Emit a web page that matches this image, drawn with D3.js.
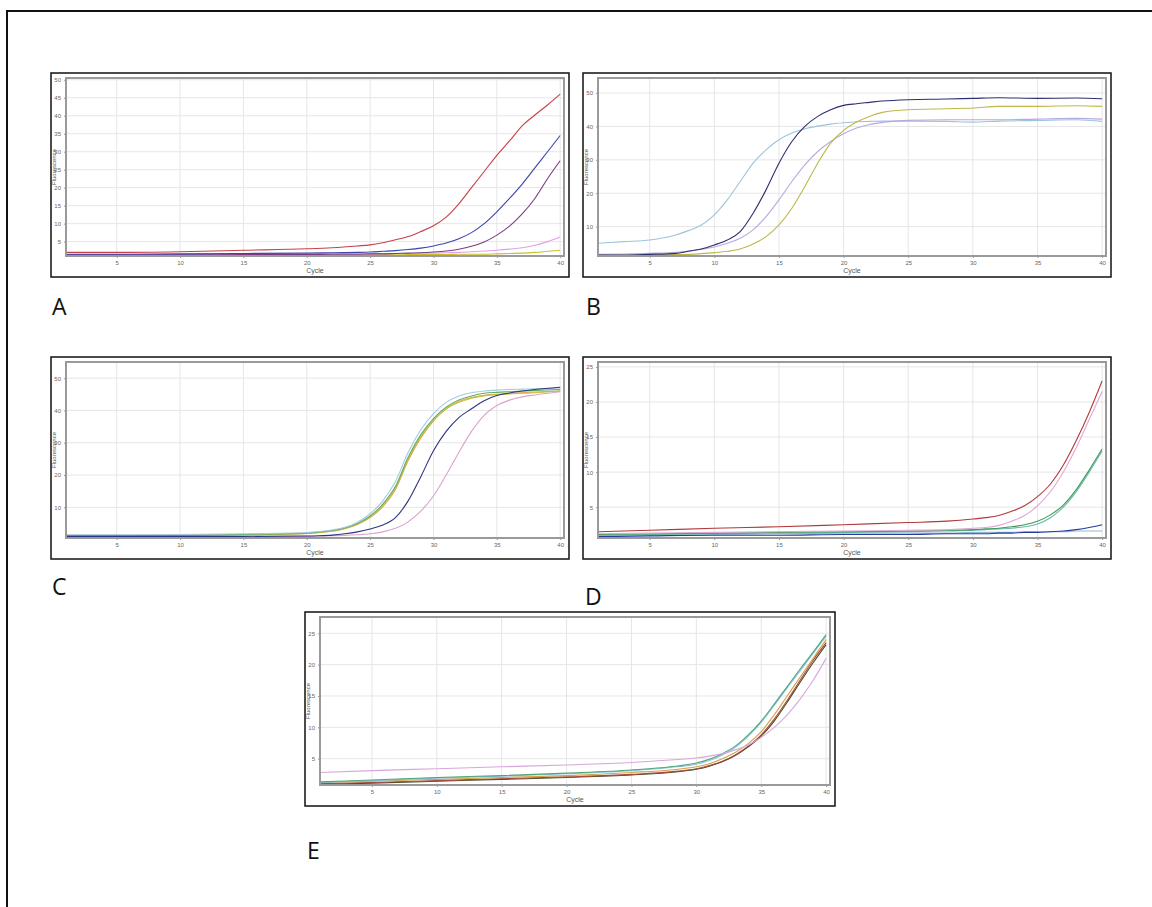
<!DOCTYPE html>
<html><head><meta charset="utf-8">
<script src="https://cdn.jsdelivr.net/npm/d3@7"></script>
<style>html,body{margin:0;padding:0;background:#fff;}svg{display:block;}</style>
</head><body>
<script>
// ---------- DATA ----------
const xTicks = [5,10,15,20,25,30,35,40];

// Panel A
const aCycles = [1,5,10,15,20,22,24,25,26,27,28,29,30,31,32,33,34,35,36,37,38,39,40];
const aRed    = [2.0,2.0,2.2,2.6,3.0,3.3,3.8,4.1,4.7,5.5,6.4,7.8,9.4,11.8,15.5,20,24.5,29,33,37.2,40.2,43,46];
const aBlue   = [1.5,1.5,1.6,1.7,1.8,1.9,2.0,2.1,2.3,2.5,2.8,3.2,3.8,4.6,5.8,7.5,10,13.3,17,21,25.5,30,34.5];
const aPurple = [1.3,1.3,1.3,1.4,1.4,1.5,1.5,1.6,1.6,1.7,1.8,1.9,2.1,2.4,2.9,3.7,4.9,6.8,9.3,12.7,17,22.5,27.5];
const aPink   = [1.4,1.4,1.4,1.5,1.5,1.6,1.6,1.6,1.7,1.7,1.7,1.8,1.8,1.9,2.0,2.2,2.4,2.6,2.9,3.3,4.0,5.0,6.3];
const aYellow = [1.1,1.1,1.1,1.2,1.2,1.2,1.3,1.3,1.3,1.3,1.4,1.4,1.4,1.4,1.5,1.5,1.5,1.6,1.7,1.8,2.0,2.3,2.6];
const aNavy   = [1.0,1.0,1.0,1.0,1.0,1.0,1.0,1.0,1.0,1.0,1.0,1.0,1.0,1.0,1.0,1.0,1.0,1.0,1.0,1.0,1.1,1.1,1.1];
const aYTicks = [5,10,15,20,25,30,35,40,45,50];

// Panel B
const bCycles = [1,3,5,7,8,9,10,11,12,13,14,15,16,17,18,19,20,21,22,23,25,28,30,32,35,38,40];
const bCyan   = [5,5.5,6,7.5,8.8,10.5,13.5,18,23.5,29,33,36,38,39.3,40.1,40.7,41.1,41.4,41.5,41.6,41.6,41.5,41.3,41.6,41.8,42,41.5];
const bNavy   = [1.5,1.5,1.7,2,2.6,3.3,4.5,6,8.5,14,21,29,35.5,40,43,45,46.3,46.8,47.2,47.6,48,48.2,48.4,48.6,48.4,48.5,48.3];
const bLav    = [1.7,1.8,2,2.3,2.7,3.2,3.9,5,6.5,9,13,18,23.5,28.5,32.5,35.5,37.8,39.5,40.6,41.2,41.8,42,42,42,42.2,42.4,42.2];
const bYellow = [1.4,1.4,1.5,1.6,1.7,1.9,2.2,2.6,3.3,4.8,7,10.5,15.5,22,29,35,38.8,41.3,43,44.2,45,45.3,45.5,46,46,46.2,46];
const bYTicks = [10,20,30,40,50];

// Panel C
const cCycles = [1,5,10,15,20,21,22,23,24,25,26,27,28,29,30,31,32,33,34,35,36,37,38,40];
const cCyan   = [1.5,1.5,1.6,1.8,2.2,2.5,3.0,3.8,5.4,8,12,18,27,34,39,42.5,44.5,45.5,46,46.3,46.5,46.6,46.7,47];
const cGreen  = [1.3,1.3,1.4,1.6,2.0,2.3,2.8,3.6,5.0,7.3,11,16.5,25.5,32.5,37.5,41,43.2,44.5,45.3,45.6,45.8,46,46.2,46.5];
const cYellow = [1.2,1.2,1.3,1.5,1.9,2.2,2.7,3.5,4.8,7,10.5,16,25,32,37,40.5,42.5,43.8,44.5,44.9,45.1,45.3,45.5,46];
const cOrange = [1.2,1.2,1.3,1.5,1.9,2.2,2.6,3.4,4.7,6.8,10.2,15.5,24.5,31.5,36.8,40.5,42.8,44,44.7,45,45.3,45.5,45.7,46];
const cNavy   = [1.0,1.0,1.0,1.0,1.1,1.2,1.4,1.8,2.4,3.3,4.5,6.8,12,19.5,27.5,33.5,37.8,40.5,43,44.6,45.4,46,46.5,47.2];
const cPink   = [0.9,0.9,0.9,0.9,1.0,1.1,1.2,1.3,1.5,1.8,2.4,3.5,5.5,8.8,13.5,20,27,33.5,38.5,41.5,43.2,44.2,44.8,45.8];
const cYTicks = [10,20,30,40,50];

// Panel D
const dCycles = [1,5,10,15,20,25,28,30,31,32,33,34,35,36,37,38,39,40];
const dRed    = [1.5,1.7,2.0,2.2,2.5,2.8,3.0,3.3,3.5,3.8,4.4,5.2,6.5,8.3,11,14.5,18.5,23];
const dPink   = [1.2,1.3,1.4,1.5,1.6,1.7,1.8,2.0,2.1,2.4,3.0,3.8,5.2,7.2,10,13.5,17.5,21.5];
const dGreen  = [1.1,1.2,1.3,1.4,1.5,1.6,1.7,1.8,1.9,2.0,2.2,2.5,3.0,3.9,5.3,7.5,10.3,13.3];
const dTeal   = [1.0,1.1,1.2,1.3,1.4,1.5,1.6,1.7,1.8,1.9,2.0,2.2,2.6,3.5,5.0,7.2,10,13];
const dLight  = [1.0,1.0,1.1,1.2,1.3,1.3,1.3,1.4,1.4,1.4,1.4,1.5,1.5,1.5,1.5,1.6,1.6,1.6];
const dNavy   = [0.8,0.9,1.0,1.0,1.1,1.1,1.2,1.2,1.2,1.3,1.3,1.4,1.4,1.5,1.6,1.8,2.1,2.5];
const dYTicks = [5,10,15,20,25];

// Panel E
const eCycles = [1,5,10,15,20,25,28,30,31,32,33,34,35,36,37,38,39,40];
const ePink   = [2.8,3.1,3.4,3.7,4.0,4.4,4.8,5.1,5.4,5.8,6.4,7.2,8.4,10,12,14.5,17.5,21];
const eGreen  = [1.3,1.6,2.0,2.3,2.7,3.2,3.7,4.3,4.9,5.8,7.0,8.8,11,13.7,16.5,19.3,22,24.8];
const eCyan   = [1.2,1.5,1.9,2.2,2.6,3.1,3.6,4.1,4.7,5.6,6.8,8.6,10.8,13.5,16.3,19,21.8,24.5];
const eOrange = [1.2,1.4,1.7,2.0,2.3,2.8,3.2,3.7,4.2,5.0,6.0,7.4,9.3,12,15,18,21,24];
const eBrown  = [1.0,1.2,1.5,1.8,2.1,2.5,2.9,3.4,3.9,4.6,5.6,7.0,8.8,11.3,14.3,17.5,20.7,23.5];
const eDark   = [0.9,1.1,1.4,1.7,2.0,2.4,2.8,3.3,3.8,4.5,5.5,6.9,8.6,11,14,17.2,20.3,23.2];
const eYTicks = [5,10,15,20,25];

const panelLabels = ["A","B","C","D","E"];

// ---------- RENDER ----------
const W = 1152, H = 907;
const svg = d3.select("body").append("svg").attr("width", W).attr("height", H);

// outer border (top and left visible)
svg.append("path").attr("d", `M7,${H} V11 H${W}`).attr("fill","none").attr("stroke","#111").attr("stroke-width",2);

const panels = [
  {box:[51,73,518,204], yDom:[1,50.5], yTicks:aYTicks, cycles:aCycles,
   series:[[aNavy,"#23235f"],[aYellow,"#c8c02a"],[aPink,"#e4a0e6"],[aPurple,"#7b3b82"],[aBlue,"#3a46a8"],[aRed,"#c8404a"]],
   label:[52,315]},
  {box:[583,73,528,204], yDom:[1.2,54.5], yTicks:bYTicks, cycles:bCycles,
   series:[[bCyan,"#9cc4dc"],[bLav,"#b9a8de"],[bYellow,"#bdb848"],[bNavy,"#2e2e6e"]],
   label:[586,315]},
  {box:[51,357,518,202], yDom:[0.5,55], yTicks:cYTicks, cycles:cCycles,
   series:[[cPink,"#d9a2d0"],[cOrange,"#dca050"],[cYellow,"#c8c040"],[cGreen,"#60b060"],[cCyan,"#a6c8e4"],[cNavy,"#2e3480"]],
   label:[52,595]},
  {box:[583,357,528,202], yDom:[0.6,25.7], yTicks:dYTicks, cycles:dCycles,
   series:[[dLight,"#8fb8d8"],[dNavy,"#243c9c"],[dTeal,"#6ab8a8"],[dGreen,"#3a9a5a"],[dPink,"#e2a6d4"],[dRed,"#b03a3a"]],
   label:[585,605]},
  {box:[305,612,530,194], yDom:[0.8,27.6], yTicks:eYTicks, cycles:eCycles,
   series:[[eDark,"#4a4a2a"],[eBrown,"#a8483a"],[eOrange,"#d4a24a"],[eCyan,"#88c4e0"],[eGreen,"#52a47c"],[ePink,"#d8a6dc"]],
   label:[307,859]}
];

panels.forEach((p, i) => {
  const [fx, fy, fw, fh] = p.box;
  const left = fx + 15, right = fx + fw - 5, top = fy + 5, bottom = fy + fh - 21;
  const x = d3.scaleLinear().domain([1, 40.3]).range([left, right]);
  const y = d3.scaleLinear().domain(p.yDom).range([bottom, top]);
  const g = svg.append("g");

  // grid
  g.append("g").selectAll("line").data(xTicks).join("line")
    .attr("x1", d => x(d)).attr("x2", d => x(d)).attr("y1", top).attr("y2", bottom)
    .attr("stroke", "#e6e6e6").attr("stroke-width", 1);
  g.append("g").selectAll("line").data(p.yTicks).join("line")
    .attr("x1", left).attr("x2", right).attr("y1", d => y(d)).attr("y2", d => y(d))
    .attr("stroke", "#e6e6e6").attr("stroke-width", 1);

  // axes
  const xa = g.append("g").attr("transform", `translate(0,${bottom})`)
    .call(d3.axisBottom(x).tickValues(xTicks).tickSize(2).tickFormat(d3.format("d")));
  const ya = g.append("g").attr("transform", `translate(${left},0)`)
    .call(d3.axisLeft(y).tickValues(p.yTicks).tickSize(2).tickFormat(d3.format("d")));
  [xa, ya].forEach(a => {
    a.select(".domain").remove();
    a.selectAll("line").attr("stroke", "#999");
    a.selectAll("text").attr("fill", "#666").style("font-size", "6px").style("font-family", "Liberation Sans, Arial, sans-serif");
  });
  xa.selectAll("text").attr("dy", "0.6em");

  // series
  const clipId = "clip" + i;
  svg.append("clipPath").attr("id", clipId).append("rect")
    .attr("x", left).attr("y", top).attr("width", right - left).attr("height", bottom - top);
  const line = d3.line().x((d, k) => x(p.cycles[k])).y(d => y(d)).curve(d3.curveMonotoneX);
  g.append("g").attr("clip-path", `url(#${clipId})`).selectAll("path").data(p.series).join("path")
    .attr("d", d => line(d[0])).attr("fill", "none").attr("stroke", d => d[1]).attr("stroke-width", 1.1);

  // plot border
  g.append("rect").attr("x", left).attr("y", top).attr("width", right - left).attr("height", bottom - top)
    .attr("fill", "none").attr("stroke", "#9a9a9a").attr("stroke-width", 2);

  // axis titles
  g.append("text").attr("x", (left + right) / 2).attr("y", bottom + 17).attr("text-anchor", "middle")
    .attr("fill", "#555").style("font-size", "7px").style("font-family", "Liberation Sans, Arial, sans-serif").text("Cycle");
  g.append("text").attr("transform", `translate(${fx + 5},${(top + bottom) / 2}) rotate(-90)`)
    .attr("text-anchor", "middle").attr("fill", "#555").style("font-size", "6px")
    .style("font-family", "Liberation Sans, Arial, sans-serif").text("Fluorescence");

  // frame
  g.append("rect").attr("x", fx).attr("y", fy).attr("width", fw).attr("height", fh)
    .attr("fill", "none").attr("stroke", "#111").attr("stroke-width", 1.5);

  // panel letter
  svg.append("text").attr("x", p.label[0]).attr("y", p.label[1])
    .style("font-family", "Open Sans, Noto Sans, sans-serif").style("font-size", "23px")
    .attr("fill", "#111").text(panelLabels[i]);
});
</script>
</body></html>
